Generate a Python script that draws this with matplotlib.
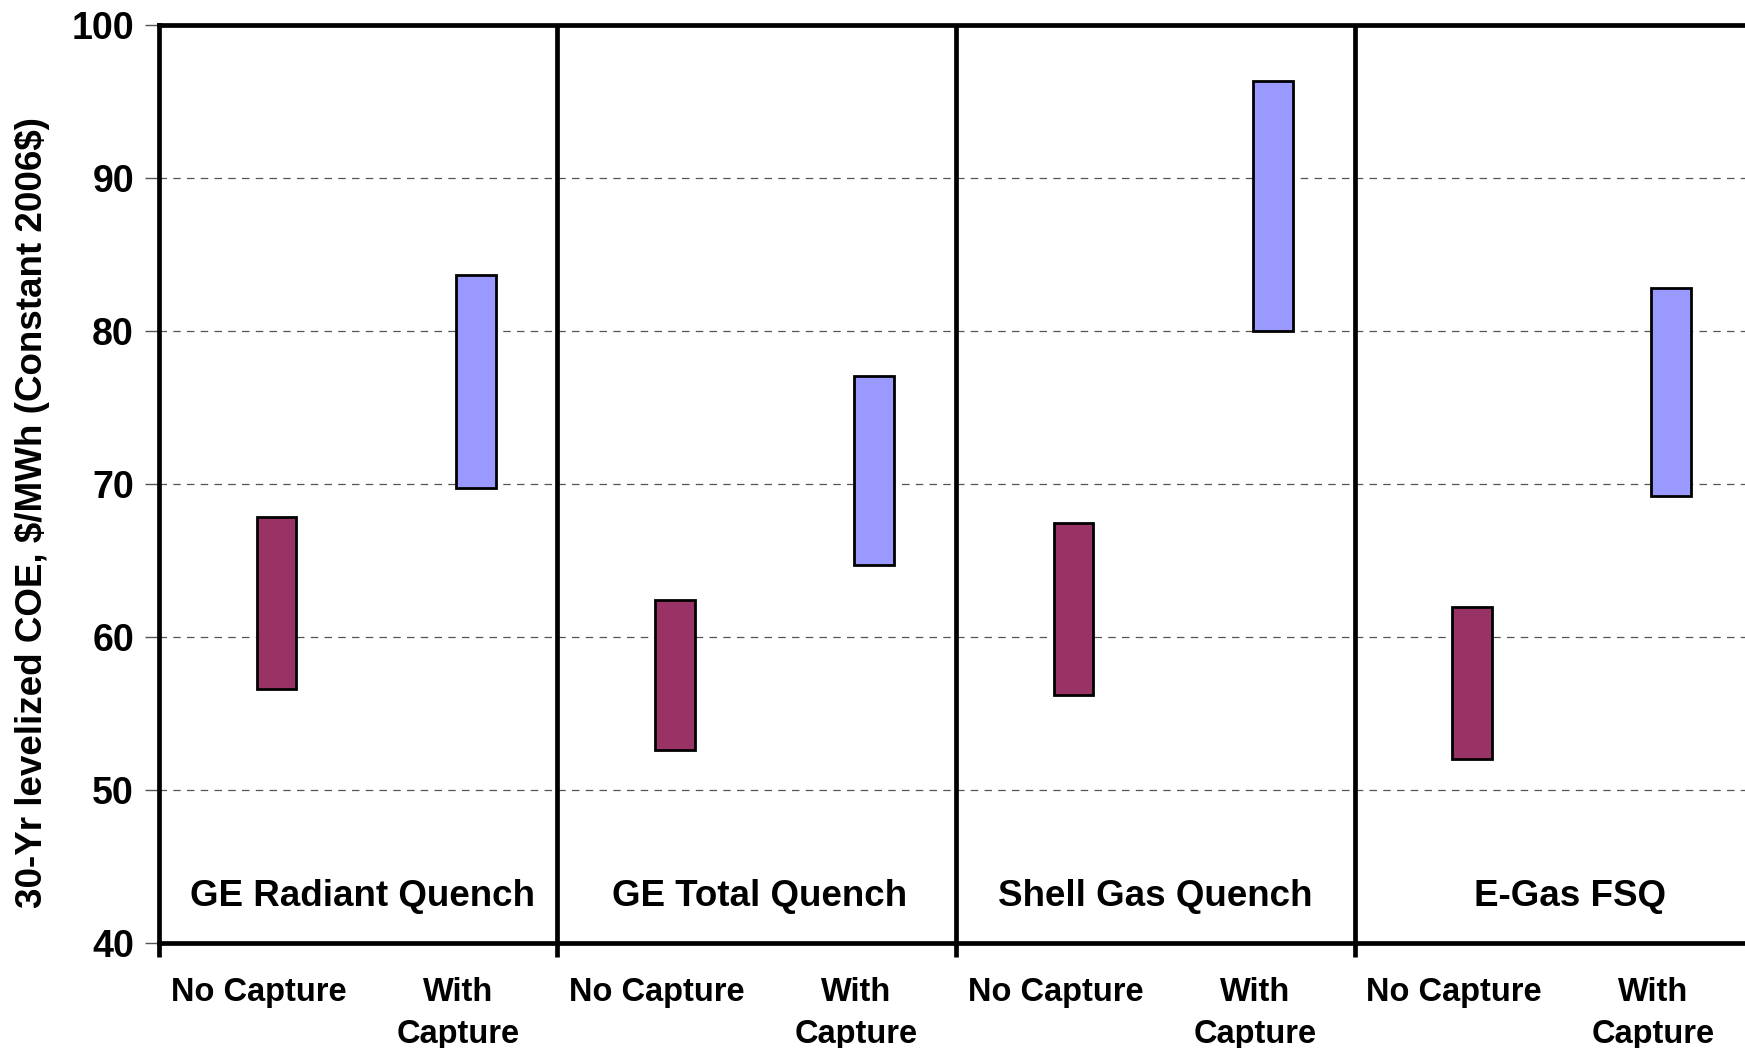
import numpy as np
import matplotlib.pyplot as plt

plt.rcParams['font.family'] = ['Liberation Sans', 'DejaVu Sans']
plt.rcParams['font.weight'] = 'bold'

# gasifier groups and cost ranges (30-yr levelized COE, $/MWh)
groups = ["GE Radiant Quench", "GE Total Quench", "Shell Gas Quench", "E-Gas FSQ"]
no_capture_low = [56.6, 52.6, 56.2, 52.0]
no_capture_high = [67.8, 62.4, 67.4, 61.9]
with_capture_low = [69.7, 64.7, 80.0, 69.2]
with_capture_high = [83.6, 77.0, 96.3, 82.8]
sub_labels = ["No Capture", "With\nCapture"]
y_ticks = [40, 50, 60, 70, 80, 90, 100]

fig = plt.figure(figsize=(17.45, 10.48), dpi=100)
ax = fig.add_axes([0.0911, 0.1006, 0.9135, 0.876])

n = len(groups)
x0 = np.arange(n)
bar_w = 0.10

lo = np.array(no_capture_low)
hi = np.array(no_capture_high)
ax.bar(x0 + 0.295, hi - lo, bottom=lo, width=bar_w, color="#993366",
       edgecolor="black", linewidth=2, zorder=3)
lo = np.array(with_capture_low)
hi = np.array(with_capture_high)
ax.bar(x0 + 0.795, hi - lo, bottom=lo, width=bar_w, color="#9999FF",
       edgecolor="black", linewidth=2, zorder=3)

# group dividers
for g in range(1, n):
    ax.axvline(g, color="black", linewidth=3.4, zorder=4)

# group names
name_offsets = [0.51, 0.507, 0.5, 0.54]
for g, name in enumerate(groups):
    ax.text(g + name_offsets[g], 43.0, name, ha="center", va="center",
            fontsize=26.5, fontweight="bold")

# category labels below the axis
for g in range(n):
    ax.text(g + 0.25, -0.038, sub_labels[0], transform=ax.get_xaxis_transform(),
            ha="center", va="top", fontsize=23.5, fontweight="bold", linespacing=1.45)
    ax.text(g + 0.75, -0.038, sub_labels[1], transform=ax.get_xaxis_transform(),
            ha="center", va="top", fontsize=23.5, fontweight="bold", linespacing=1.45)

ax.set_xlim(0, n)
ax.set_ylim(40, 100)
ax.set_yticks(y_ticks)
ax.set_yticklabels([str(v) for v in y_ticks], fontsize=27, fontweight="bold")
ax.set_xticks(np.arange(n + 1))
ax.set_xticklabels([])
ax.tick_params(axis="x", length=10, width=3.4, color="black", direction="out")
ax.tick_params(axis="y", length=10, width=1, color="#555555", pad=8)

ax.yaxis.grid(True, linestyle=(0, (6, 5)), color="#555555", linewidth=0.9, zorder=0)
for sp in ax.spines.values():
    sp.set_linewidth(3.4)
    sp.set_color("black")

fig.text(0.0185, 0.511, r"30-Yr levelized COE, \$/MWh (Constant 2006\$)", fontsize=26.5,
         fontweight="bold", rotation=90, ha="center", va="center")

fig.savefig("out.png", dpi=100)
